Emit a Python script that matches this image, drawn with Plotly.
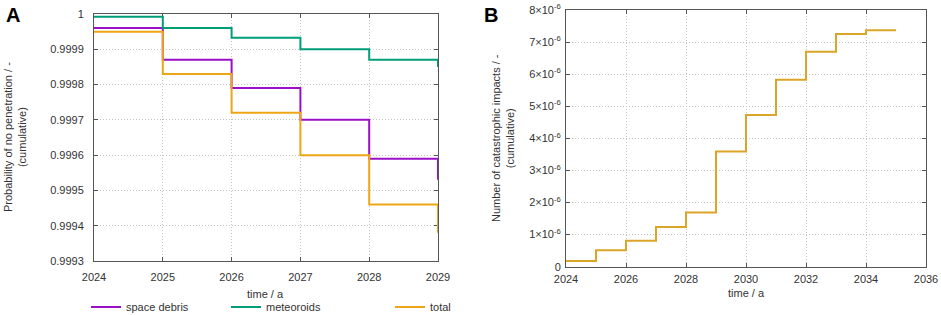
import plotly.graph_objects as go

# ---- data ----
years_a = [2024, 2025, 2026, 2027, 2028, 2029]
space_debris = [0.99996, 0.99987, 0.99979, 0.99970, 0.99959, 0.99953]
meteoroids = [0.999992, 0.99996, 0.999933, 0.99990, 0.99987, 0.99985]
total = [0.99995, 0.99983, 0.99972, 0.99960, 0.99946, 0.99938]

a_yticks = [0.9993, 0.9994, 0.9995, 0.9996, 0.9997, 0.9998, 0.9999, 1.0]
a_yticktext = ["0.9993", "0.9994", "0.9995", "0.9996", "0.9997", "0.9998", "0.9999", "1"]
a_xticks = [2024, 2025, 2026, 2027, 2028, 2029]

years_b = [2024, 2025, 2026, 2027, 2028, 2029, 2030, 2031, 2032, 2033, 2034, 2035]
impacts = [0.18e-6, 0.51e-6, 0.81e-6, 1.24e-6, 1.69e-6, 3.59e-6,
           4.73e-6, 5.83e-6, 6.70e-6, 7.25e-6, 7.37e-6, 7.37e-6]
b_yticks = [0, 1e-6, 2e-6, 3e-6, 4e-6, 5e-6, 6e-6, 7e-6, 8e-6]
b_yticktext = ["0"] + [f"{i}×10<sup>-6</sup>" for i in range(1, 9)]
b_xticks = [2024, 2026, 2028, 2030, 2032, 2034, 2036]

W, H = 941, 315
FONT = "Liberation Sans, Arial, sans-serif"
TXT = "#333333"
C_DEB = "#9a10c8"
C_MET = "#009e78"
C_TOT = "#eea616"
C_B = "#dba628"

fig = go.Figure()
fig.add_trace(go.Scatter(x=years_a, y=space_debris, mode="lines", line=dict(shape="hv", color=C_DEB, width=2),
                         name="space debris", xaxis="x", yaxis="y", legend="legend"))
fig.add_trace(go.Scatter(x=years_a, y=meteoroids, mode="lines", line=dict(shape="hv", color=C_MET, width=2),
                         name="meteoroids", xaxis="x", yaxis="y", legend="legend2"))
fig.add_trace(go.Scatter(x=years_a, y=total, mode="lines", line=dict(shape="hv", color=C_TOT, width=2),
                         name="total", xaxis="x", yaxis="y", legend="legend3"))
fig.add_trace(go.Scatter(x=years_b, y=impacts, mode="lines", line=dict(shape="hv", color=C_B, width=2),
                         name="catastrophic impacts", xaxis="x2", yaxis="y2", showlegend=False))

def px_x(p):
    return p / W

def px_y(p):
    return 1 - p / H

axis_common = dict(showline=True, linecolor="#555555", linewidth=1, mirror="allticks",
                   ticks="inside", ticklen=4, tickwidth=1, tickcolor="#555555",
                   showgrid=True, gridcolor="#c4c4c4", griddash="1px,2px", gridwidth=1,
                   zeroline=False, automargin=False, ticklabeloverflow="allow",
                   layer="below traces",
                   tickfont=dict(family=FONT, size=11, color=TXT))

legend_common = dict(xanchor="left", yanchor="middle", orientation="h",
                     font=dict(family=FONT, size=11, color=TXT), bgcolor="rgba(0,0,0,0)")

fig.update_layout(
    template="none",
    width=W, height=H,
    margin=dict(l=0, r=0, t=0, b=0, autoexpand=False),
    paper_bgcolor="white", plot_bgcolor="white",
    font=dict(family=FONT, size=11, color=TXT),
    xaxis=dict(domain=[px_x(94), px_x(438)], range=[2024, 2029], tickvals=a_xticks,
               anchor="y", ticklabelstandoff=6, **axis_common),
    yaxis=dict(domain=[px_y(261), px_y(14)], range=[0.9993, 1.0], tickvals=a_yticks,
               ticktext=a_yticktext, anchor="x", ticklabelstandoff=7, **axis_common),
    xaxis2=dict(domain=[px_x(566), px_x(926)], range=[2024, 2036], tickvals=b_xticks,
                anchor="y2", ticklabelstandoff=2, **axis_common),
    yaxis2=dict(domain=[px_y(266.7), px_y(10)], range=[0, 8e-6], tickvals=b_yticks,
                ticktext=b_yticktext, anchor="x2", ticklabelstandoff=2, **axis_common),
    legend=dict(x=px_x(86), y=px_y(307), **legend_common),
    legend2=dict(x=px_x(226), y=px_y(307), **legend_common),
    legend3=dict(x=px_x(390), y=px_y(307), **legend_common),
    annotations=[
        dict(text="<b>A</b>", x=px_x(13), y=px_y(15), xref="paper", yref="paper", showarrow=False,
             font=dict(family=FONT, size=20, color="black"), xanchor="center", yanchor="middle"),
        dict(text="<b>B</b>", x=px_x(491), y=px_y(15), xref="paper", yref="paper", showarrow=False,
             font=dict(family=FONT, size=20, color="black"), xanchor="center", yanchor="middle"),
        dict(text="Probability of no penetration / -<br>(cumulative)", x=px_x(15), y=px_y(137),
             xref="paper", yref="paper", showarrow=False, textangle=-90,
             font=dict(family=FONT, size=11, color=TXT), xanchor="center", yanchor="middle"),
        dict(text="Number of catastrophic impacts / -<br>(cumulative)", x=px_x(503), y=px_y(138),
             xref="paper", yref="paper", showarrow=False, textangle=-90,
             font=dict(family=FONT, size=11, color=TXT), xanchor="center", yanchor="middle"),
        dict(text="time / a", x=px_x(265), y=px_y(294), xref="paper", yref="paper", showarrow=False,
             font=dict(family=FONT, size=11, color=TXT), xanchor="center", yanchor="middle"),
        dict(text="time / a", x=px_x(746), y=px_y(293), xref="paper", yref="paper", showarrow=False,
             font=dict(family=FONT, size=11, color=TXT), xanchor="center", yanchor="middle"),
    ],
)

# remove the browser's default 8px body margin so the figure fills the window exactly
fig.write_html("out.html", config={"displayModeBar": False},
               post_script="document.body.style.margin='0';document.body.style.overflow='hidden';")
